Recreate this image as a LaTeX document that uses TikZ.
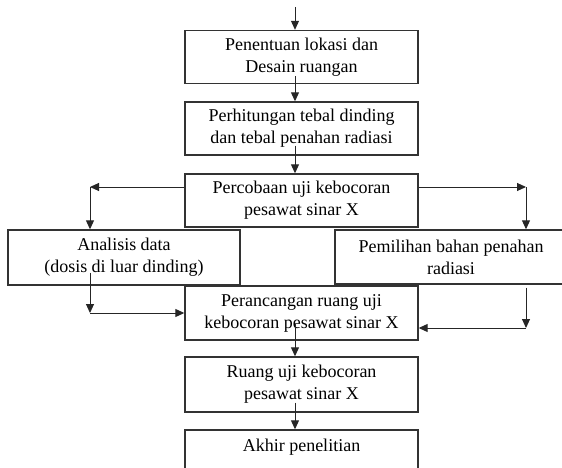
\documentclass[tikz,border=0pt]{standalone}
\usepackage{fontspec}
\setmainfont{Liberation Serif}
\usetikzlibrary{arrows.meta}

\begin{document}
\begin{tikzpicture}[x=1pt,y=-1pt,
  kotak/.style={draw=black!80, line width=1.4pt, minimum width=233pt, minimum height=53pt,
    inner sep=0pt, align=center, font=\fontsize{18}{22}\selectfont},
  panah/.style={draw=black!85, line width=1pt, -{Triangle[length=9pt,width=8pt]}}]
\useasboundingbox (0,0) rectangle (562,468);

\node[kotak] (lokasi) at (301.5,57) {Penentuan lokasi dan\\Desain ruangan};
\node[kotak] (tebal) at (301.5,128.5) {Perhitungan tebal dinding\\dan tebal penahan radiasi};
\node[kotak] (percobaan) at (301.5,200.5) {Percobaan uji kebocoran\\pesawat sinar X};
\node[kotak, minimum width=232pt, minimum height=55pt] (analisis) at (124,257.5) {Analisis data\\(dosis di luar dinding)};
\node[kotak, minimum width=232pt, minimum height=54pt] (pemilihan) at (451,257) {Pemilihan bahan penahan\\radiasi};
\node[kotak, minimum height=54pt] (perancangan) at (301.5,313) {Perancangan ruang uji\\kebocoran pesawat sinar X};
\node[kotak, minimum height=55pt] (ruang) at (301.5,384.5) {Ruang uji kebocoran\\pesawat sinar X};
\node[kotak] (akhir) at (301.5,456.5) {Akhir penelitian\\\mbox{}};

\coordinate (mulai) at (295,7);
\coordinate (kiri) at (90,187);
\coordinate (kanan) at (526,187);
\coordinate (kiribawah) at (90,313);
\coordinate (kananbawah) at (526,328);

% alur utama
\path[panah] (mulai) -- ([xshift=-6.5pt]lokasi.north);
\path[panah] ([xshift=-6.5pt,yshift=8pt]lokasi.south) -- ([xshift=-6.5pt]tebal.north);
\path[panah] ([xshift=-6.5pt,yshift=10pt]tebal.south) -- ([xshift=-6.5pt]percobaan.north);
\path[panah] ([xshift=-6.5pt,yshift=17pt]perancangan.south) -- ([xshift=-6.5pt]ruang.north);
\path[panah] ([xshift=-6.5pt,yshift=10pt]ruang.south) -- ([xshift=-6.5pt]akhir.north);

% cabang kiri
\path[panah] ([yshift=13.5pt]percobaan.west) -- (kiri);
\path[panah] (kiri) -- (kiri |- analisis.north);
\path[panah] ([yshift=13pt]analisis.south -| kiribawah) -- (kiribawah);
\path[panah] (kiribawah) -- (perancangan.west);

% cabang kanan
\path[panah] ([yshift=13.5pt]percobaan.east) -- (kanan);
\path[panah] (kanan) -- (kanan |- pemilihan.north);
\path[panah] ([yshift=-3pt]pemilihan.south -| kananbawah) -- (kananbawah);
\path[panah] (kananbawah) -- ([yshift=-15pt]perancangan.east);
\end{tikzpicture}
\end{document}
